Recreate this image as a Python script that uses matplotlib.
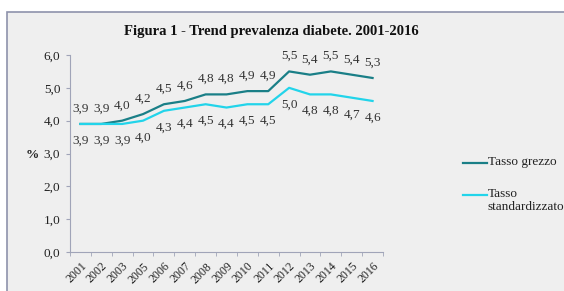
import matplotlib
matplotlib.use('Agg')
import matplotlib.pyplot as plt
from matplotlib.patches import Rectangle
from matplotlib.lines import Line2D
import numpy as np

# Data
anni = ['2001', '2002', '2003', '2005', '2006', '2007', '2008', '2009',
        '2010', '2011', '2012', '2013', '2014', '2015', '2016']
grezzo = [3.9, 3.9, 4.0, 4.2, 4.5, 4.6, 4.8, 4.8, 4.9, 4.9, 5.5, 5.4, 5.5, 5.4, 5.3]
standard = [3.9, 3.9, 3.9, 4.0, 4.3, 4.4, 4.5, 4.4, 4.5, 4.5, 5.0, 4.8, 4.8, 4.7, 4.6]
serie = ['Tasso grezzo', 'Tasso\nstandardizzato']
colori = ['#1a7f87', '#22d4ea']

plt.rcParams['font.family'] = ['Liberation Serif', 'DejaVu Serif']

W, H = 564, 291
fig = plt.figure(figsize=(W / 100, H / 100), dpi=100, facecolor='white')

# grey panel with border, cut at right and bottom
fig.patches.append(Rectangle((7 / W, -0.1), 1.0, 1 - 12 / H + 0.1,
                             transform=fig.transFigure, facecolor='#efefef',
                             edgecolor='#8e92ab', linewidth=1.2, zorder=-10))

ax = fig.add_axes([70 / W, (H - 252) / H, (383 - 70) / W, (252 - 55) / H])
ax.set_facecolor('none')

x = np.arange(len(anni))
ax.plot(x, grezzo, color=colori[0], lw=1.6)
ax.plot(x, standard, color=colori[1], lw=1.6)

def fmt(v):
    return f"{v:.1f}".replace('.', ',')

for xi, v in zip(x, grezzo):
    ax.annotate(fmt(v), (xi, v), xytext=(0, 11), textcoords='offset points',
                ha='center', va='center', fontsize=9.5, color='#333333')
for xi, v in zip(x, standard):
    ax.annotate(fmt(v), (xi, v), xytext=(0, -12), textcoords='offset points',
                ha='center', va='center', fontsize=9.5, color='#333333')

ax.set_xlim(-0.5, len(anni) - 0.5)
ax.set_ylim(0, 6)
ax.set_yticks(np.arange(0, 7, 1))
ax.set_yticklabels([fmt(v) for v in np.arange(0, 7, 1)], fontsize=9.5, color='#222222')
ax.set_xticks(x)
ax.set_xticklabels(anni, rotation=45, ha='right', rotation_mode='anchor',
                   fontsize=8.5, color='#222222')
ax.set_xticks(np.arange(-0.5, len(anni), 1), minor=True)
ax.tick_params(axis='x', which='major', length=0, pad=6)
ax.tick_params(axis='x', which='minor', length=3, color='#a0a4b8', direction='out')
ax.tick_params(axis='y', length=3, color='#a0a4b8', direction='out', pad=4)

for s in ['top', 'right']:
    ax.spines[s].set_visible(False)
for s in ['left', 'bottom']:
    ax.spines[s].set_color('#a0a4b8')
    ax.spines[s].set_linewidth(0.8)

fig.text(32 / W, 1 - 155 / H, '%', fontsize=9.5, fontweight='bold',
         ha='center', va='center', color='#222222')

fig.text(271 / W, 1 - 32 / H, 'Figura 1 - Trend prevalenza diabete. 2001-2016',
         fontsize=10.5, fontweight='bold', ha='center', va='center', color='#111111')

# legend, drawn by hand so the handle sits on the first text line
for yl, lab, col in zip([163, 195], serie, colori):
    fig.add_artist(Line2D([463 / W, 487 / W], [1 - yl / H, 1 - yl / H],
                          transform=fig.transFigure, color=col, lw=1.6))
    fig.text(488 / W, 1 - (yl - 7) / H, lab, fontsize=9.5, ha='left', va='top',
             color='#222222', linespacing=1.1)

fig.savefig('out.png', dpi=100, facecolor='white')
